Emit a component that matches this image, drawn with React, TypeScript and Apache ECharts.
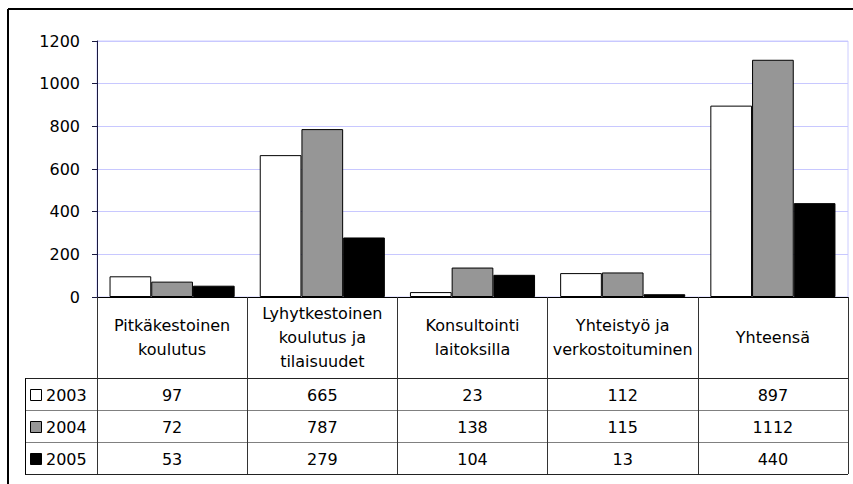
import React, { useEffect, useRef } from "react";
import * as echarts from "echarts";

const categories = [
  "Pitkäkestoinen\nkoulutus",
  "Lyhytkestoinen\nkoulutus ja\ntilaisuudet",
  "Konsultointi\nlaitoksilla",
  "Yhteistyö ja\nverkostoituminen",
  "Yhteensä",
];
const years = ["2003", "2004", "2005"];
const values2003 = [97, 665, 23, 112, 897];
const values2004 = [72, 787, 138, 115, 1112];
const values2005 = [53, 279, 104, 13, 440];
const yMin = 0;
const yMax = 1200;
const yInterval = 200;

const seriesValues = [values2003, values2004, values2005];
const seriesColors = ["#ffffff", "#969696", "#000000"];
const FONT = "DejaVu Sans";

export default function App() {
  const ref = useRef<HTMLDivElement>(null);

  useEffect(() => {
    if (!ref.current) return;
    const chart = echarts.init(ref.current, undefined, { renderer: "svg" });
    const gridLeft = 97;
    const gridRight = 5;
    const gridTop = 41;
    const gridBottom = 187;
    const W = 853;
    const H = 484;
    const tableTop = H - gridBottom;
    const headerH = 81;
    const rowH = 32;
    const tableLeft = 25;
    const tableRight = W - gridRight;
    const tickLen = headerH + rowH * years.length;

    chart.setOption({
      animation: false,
      backgroundColor: "#ffffff",
      grid: {
        left: gridLeft,
        right: gridRight,
        top: gridTop,
        bottom: gridBottom,
        show: true,
        borderColor: "#ccccff",
        borderWidth: 1,
        backgroundColor: "transparent",
      },
      xAxis: {
        type: "category",
        data: categories,
        boundaryGap: true,
        axisLine: { show: true, lineStyle: { color: "#000", width: 1 } },
        axisTick: {
          show: true,
          inside: false,
          length: tickLen,
          alignWithLabel: false,
          lineStyle: { color: "#333", width: 1 },
        },
        axisLabel: {
          interval: 0,
          margin: 40,
          verticalAlign: "middle",
          fontSize: 16,
          lineHeight: 24,
          fontFamily: FONT,
          color: "#000",
          align: "center",
        },
        splitLine: { show: false },
      },
      yAxis: {
        type: "value",
        min: yMin,
        max: yMax,
        interval: yInterval,
        axisLine: { show: true, lineStyle: { color: "#1a1a40", width: 1 } },
        axisTick: { show: true, length: 5, lineStyle: { color: "#1a1a40" } },
        axisLabel: {
          margin: 17,
          fontSize: 16,
          fontFamily: FONT,
          color: "#000",
          formatter: (v: number) => String(v),
        },
        splitLine: { show: true, lineStyle: { color: "#c8c8ff", width: 1 } },
      },
      series: years.map((y, i) => ({
        name: y,
        type: "bar",
        data: seriesValues[i],
        barGap: "0%",
        barCategoryGap: "16.7%",
        itemStyle: {
          color: seriesColors[i],
          borderColor: "#000",
          borderWidth: 1,
        },
      })),
    });

    const graphics: any[] = [];
    graphics.push({
      type: "line",
      shape: { x1: 8, y1: 9, x2: W, y2: 9 },
      style: { stroke: "#000", lineWidth: 2 },
    });
    graphics.push({
      type: "line",
      shape: { x1: 8, y1: 9, x2: 8, y2: H },
      style: { stroke: "#000", lineWidth: 2 },
    });
    const headerBottom = tableTop + headerH;
    for (let r = 0; r <= years.length; r++) {
      const y = Math.round(headerBottom + r * rowH) + 0.5;
      graphics.push({
        type: "line",
        shape: { x1: tableLeft, y1: y, x2: tableRight, y2: y },
        style: {
          stroke: r === 0 || r === years.length ? "#222" : "#808080",
          lineWidth: 1,
        },
      });
    }
    graphics.push({
      type: "line",
      shape: {
        x1: tableLeft + 0.5,
        y1: Math.round(headerBottom) + 0.5,
        x2: tableLeft + 0.5,
        y2: Math.round(headerBottom + rowH * years.length) + 0.5,
      },
      style: { stroke: "#000", lineWidth: 1 },
    });
    years.forEach((yr, r) => {
      const cy = headerBottom + r * rowH + rowH / 2 + 1;
      graphics.push({
        type: "rect",
        shape: { x: 30.5, y: Math.round(cy - 6) + 0.5, width: 11, height: 11 },
        style: { fill: seriesColors[r], stroke: "#000", lineWidth: 1 },
      });
      graphics.push({
        type: "text",
        x: 46,
        y: cy,
        style: {
          text: yr,
          fontSize: 16,
          fontFamily: FONT,
          fill: "#000",
          align: "left",
          verticalAlign: "middle",
        },
      });
      seriesValues[r].forEach((v, c) => {
        const px = chart.convertToPixel({ xAxisIndex: 0 }, c) as number;
        graphics.push({
          type: "text",
          x: px,
          y: cy,
          style: {
            text: String(v),
            fontSize: 16,
            fontFamily: FONT,
            fill: "#000",
            align: "center",
            verticalAlign: "middle",
          },
        });
      });
    });

    chart.setOption({ graphic: graphics });

    return () => chart.dispose();
  }, []);

  return (
    <div
      ref={ref}
      style={{ position: "fixed", left: 0, top: 0, width: 853, height: 484 }}
    />
  );
}
